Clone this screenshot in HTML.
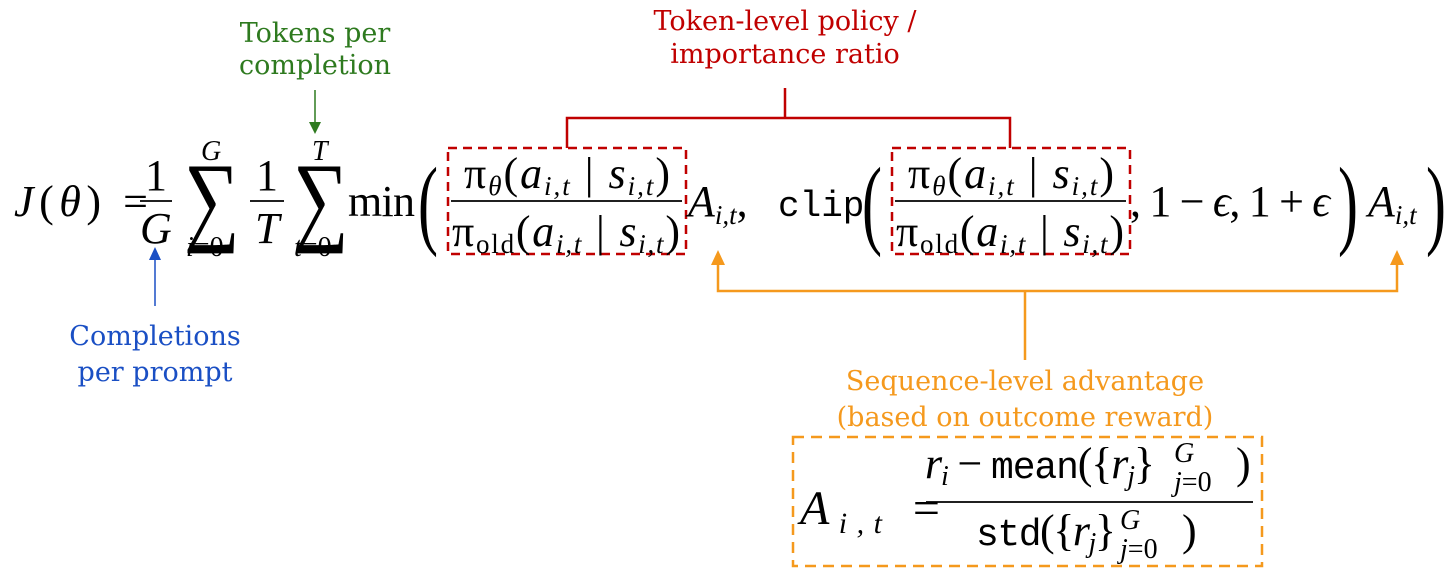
<!DOCTYPE html>
<html><head><meta charset="utf-8"><style>
html,body{margin:0;padding:0;background:#fff;width:1456px;height:579px;overflow:hidden}
svg{display:block}
.m{font-family:"Liberation Serif","DejaVu Serif",serif;fill:#000}
.i{font-style:italic}
.tt{font-family:"Liberation Mono",monospace}
.lab{font-family:"DejaVu Serif","Liberation Serif",serif;font-size:27px}
</style></head><body>
<svg width="1456" height="579" viewBox="0 0 1456 579" xmlns="http://www.w3.org/2000/svg">

<!-- green label -->
<text class="lab" x="315" y="42" text-anchor="middle" fill="#2e7a1f">Tokens per</text>
<text class="lab" x="315" y="74" text-anchor="middle" fill="#2e7a1f">completion</text>
<line x1="315" y1="90" x2="315" y2="124" stroke="#2e7a1f" stroke-width="1.5"/>
<path d="M309,122 L321,122 L315,134 Z" fill="#2e7a1f"/>

<!-- red label -->
<text class="lab" x="785" y="30" text-anchor="middle" fill="#c00000">Token-level policy /</text>
<text class="lab" x="785" y="63" text-anchor="middle" fill="#c00000">importance ratio</text>
<path d="M785,88 V118 M567,148 V118 H1010 V148" fill="none" stroke="#c00000" stroke-width="2.5"/>
<rect x="448" y="148" width="238" height="106" fill="none" stroke="#c00000" stroke-width="2.5" stroke-dasharray="9,6"/>
<rect x="892" y="148" width="238" height="106" fill="none" stroke="#c00000" stroke-width="2.5" stroke-dasharray="9,6"/>

<!-- blue label -->
<line x1="155" y1="306" x2="155" y2="258" stroke="#1a4fc4" stroke-width="1.5"/>
<path d="M149,260 L161,260 L155,247 Z" fill="#1a4fc4"/>
<text class="lab" x="155" y="345" text-anchor="middle" fill="#1a4fc4">Completions</text>
<text class="lab" x="155" y="381" text-anchor="middle" fill="#1a4fc4">per prompt</text>

<!-- orange -->
<path d="M718,262 V291 H1397 V262 M1025,291 V360" fill="none" stroke="#f5991d" stroke-width="2.5"/>
<path d="M711,265 L725,265 L718,250 Z" fill="#f5991d"/>
<path d="M1390,265 L1404,265 L1397,250 Z" fill="#f5991d"/>
<text class="lab" x="1025" y="390" text-anchor="middle" fill="#f5991d">Sequence-level advantage</text>
<text class="lab" x="1025" y="426" text-anchor="middle" fill="#f5991d">(based on outcome reward)</text>
<rect x="793" y="437" width="469" height="129" fill="none" stroke="#f5991d" stroke-width="2.5" stroke-dasharray="11,7"/>

<!-- main equation -->
<g class="m" font-size="44">
<text x="14" y="216" textLength="134" lengthAdjust="spacing"><tspan class="i">J</tspan>(<tspan class="i">θ</tspan>) =</text>
<text x="145" y="190">1</text>
<line x1="140" y1="201" x2="172" y2="201" stroke="#000" stroke-width="1.8"/>
<text x="140" y="243" class="i">G</text>
<text x="0" y="0" font-size="100" transform="translate(184,232) scale(0.78,1)">∑</text>
<text x="201" y="160" font-size="28" class="i">G</text>
<text x="186" y="256" font-size="28"><tspan class="i">i</tspan>=0</text>
<text x="256" y="190">1</text>
<line x1="250" y1="201" x2="284" y2="201" stroke="#000" stroke-width="1.8"/>
<text x="255" y="243" class="i">T</text>
<text x="0" y="0" font-size="100" transform="translate(293,232) scale(0.78,1)">∑</text>
<text x="312" y="160" font-size="28" class="i">T</text>
<text x="294" y="256" font-size="28"><tspan class="i">t</tspan>=0</text>
<text x="348" y="216" textLength="67" lengthAdjust="spacing">min</text>
<text x="0" y="0" font-size="100" transform="translate(418,236) scale(0.6,1)">(</text>

<!-- fraction 1 -->
<text x="464" y="188" textLength="206" lengthAdjust="spacing">π<tspan font-size="27" class="i" dy="7">θ</tspan><tspan dy="-7">(</tspan><tspan class="i">a</tspan><tspan font-size="27" class="i" dy="7">i,t</tspan><tspan dy="-7"> | </tspan><tspan class="i">s</tspan><tspan font-size="27" class="i" dy="7">i,t</tspan><tspan dy="-7">)</tspan></text>
<line x1="451" y1="201" x2="682" y2="201" stroke="#000" stroke-width="1.8"/>
<text x="452" y="246" textLength="228" lengthAdjust="spacing">π<tspan font-size="27" dy="7">old</tspan><tspan dy="-7">(</tspan><tspan class="i">a</tspan><tspan font-size="27" class="i" dy="7">i,t</tspan><tspan dy="-7"> | </tspan><tspan class="i">s</tspan><tspan font-size="27" class="i" dy="7">i,t</tspan><tspan dy="-7">)</tspan></text>
<text x="688" y="216"><tspan class="i">A</tspan><tspan font-size="27" class="i" dy="8">i,t</tspan><tspan dy="-8">,</tspan></text>
<text x="778" y="216" class="tt" font-size="36">clip</text>
<text x="0" y="0" font-size="100" transform="translate(862,236) scale(0.6,1)">(</text>

<!-- fraction 2 -->
<text x="908" y="188" textLength="206" lengthAdjust="spacing">π<tspan font-size="27" class="i" dy="7">θ</tspan><tspan dy="-7">(</tspan><tspan class="i">a</tspan><tspan font-size="27" class="i" dy="7">i,t</tspan><tspan dy="-7"> | </tspan><tspan class="i">s</tspan><tspan font-size="27" class="i" dy="7">i,t</tspan><tspan dy="-7">)</tspan></text>
<line x1="895" y1="201" x2="1126" y2="201" stroke="#000" stroke-width="1.8"/>
<text x="896" y="246" textLength="228" lengthAdjust="spacing">π<tspan font-size="27" dy="7">old</tspan><tspan dy="-7">(</tspan><tspan class="i">a</tspan><tspan font-size="27" class="i" dy="7">i,t</tspan><tspan dy="-7"> | </tspan><tspan class="i">s</tspan><tspan font-size="27" class="i" dy="7">i,t</tspan><tspan dy="-7">)</tspan></text>
<text x="1130" y="216" textLength="200" lengthAdjust="spacing">, 1 − <tspan class="i">ϵ</tspan>, 1 + <tspan class="i">ϵ</tspan></text>
<text x="0" y="0" font-size="100" transform="translate(1338,236) scale(0.6,1)">)</text>
<text x="1368" y="216"><tspan class="i">A</tspan><tspan font-size="27" class="i" dy="8">i,t</tspan></text>
<text x="0" y="0" font-size="100" transform="translate(1426,236) scale(0.6,1)">)</text>

<!-- advantage formula -->
<text x="800" y="524" font-size="48" textLength="140" lengthAdjust="spacing"><tspan class="i">A</tspan><tspan font-size="30" class="i" dy="9">i,t</tspan><tspan dy="-9"> =</tspan></text>
<text x="925" y="478" textLength="230" lengthAdjust="spacing"><tspan class="i">r</tspan><tspan font-size="28" class="i" dy="7">i</tspan><tspan dy="-7"> − </tspan><tspan class="tt" font-size="38">mean</tspan>({<tspan class="i">r</tspan><tspan font-size="28" class="i" dy="7">j</tspan><tspan dy="-7">}</tspan></text>
<text x="1174" y="462" font-size="28" class="i">G</text>
<text x="1174" y="491" font-size="28"><tspan class="i">j</tspan>=0</text>
<text x="1236" y="478">)</text>
<line x1="926" y1="502" x2="1253" y2="502" stroke="#000" stroke-width="1.8"/>
<text x="976" y="545" textLength="140" lengthAdjust="spacing"><tspan class="tt" font-size="38">std</tspan>({<tspan class="i">r</tspan><tspan font-size="28" class="i" dy="7">j</tspan><tspan dy="-7">}</tspan></text>
<text x="1120" y="529" font-size="28" class="i">G</text>
<text x="1120" y="558" font-size="28"><tspan class="i">j</tspan>=0</text>
<text x="1182" y="545">)</text>
</g>
</svg>
</body></html>
